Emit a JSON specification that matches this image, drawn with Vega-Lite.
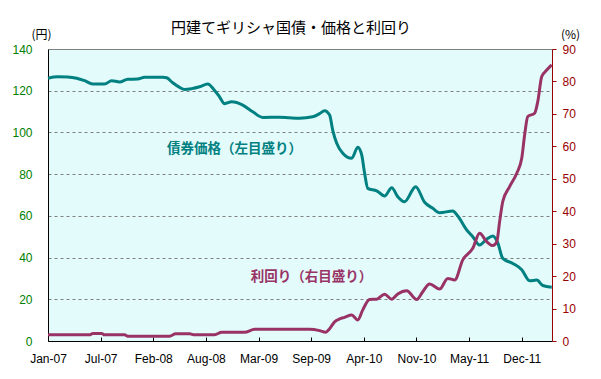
{
  "$schema": "https://vega.github.io/schema/vega-lite/v6.json",
  "width": 504,
  "height": 292,
  "autosize": "none",
  "padding": {"left": 48, "top": 49, "right": 49, "bottom": 38},
  "background": "white",
  "config": {
    "view": {"fill": "#e3fbfb", "stroke": null},
    "font": "Noto Sans CJK JP",
    "axis": {"labelFont": "Liberation Sans", "labelFontSize": 12, "titleFont": "Noto Sans CJK JP", "titleFontSize": 12, "titleFontWeight": "normal", "titleColor": "black"}
  },
  "title": {"text": "円建てギリシャ国債・価格と利回り", "fontSize": 15, "fontWeight": "normal", "font": "Noto Sans CJK JP", "color": "black", "anchor": "middle", "dx": -9, "offset": -8},
  "datasets": {
    "price": [
      {"date": "2007-01-01", "value": 126.0},
      {"date": "2007-02-07", "value": 126.7},
      {"date": "2007-03-17", "value": 126.6},
      {"date": "2007-04-20", "value": 126.0},
      {"date": "2007-05-20", "value": 124.8},
      {"date": "2007-06-20", "value": 123.2},
      {"date": "2007-08-04", "value": 123.2},
      {"date": "2007-08-31", "value": 124.8},
      {"date": "2007-09-30", "value": 124.2},
      {"date": "2007-10-31", "value": 125.5},
      {"date": "2007-12-08", "value": 125.6},
      {"date": "2008-01-03", "value": 126.5},
      {"date": "2008-03-12", "value": 126.5},
      {"date": "2008-03-27", "value": 126.2},
      {"date": "2008-04-19", "value": 123.8},
      {"date": "2008-05-15", "value": 121.6},
      {"date": "2008-06-03", "value": 120.6},
      {"date": "2008-06-30", "value": 121.0},
      {"date": "2008-07-30", "value": 121.9},
      {"date": "2008-08-30", "value": 123.2},
      {"date": "2008-09-22", "value": 120.6},
      {"date": "2008-10-14", "value": 117.0},
      {"date": "2008-11-02", "value": 113.8},
      {"date": "2008-11-29", "value": 114.7},
      {"date": "2009-01-10", "value": 113.1},
      {"date": "2009-02-17", "value": 109.9},
      {"date": "2009-03-27", "value": 107.2},
      {"date": "2009-05-30", "value": 107.3},
      {"date": "2009-07-07", "value": 107.0},
      {"date": "2009-08-14", "value": 106.8},
      {"date": "2009-10-03", "value": 107.5},
      {"date": "2009-10-29", "value": 109.0},
      {"date": "2009-11-17", "value": 110.4},
      {"date": "2009-12-06", "value": 108.3},
      {"date": "2009-12-18", "value": 101.0},
      {"date": "2010-01-02", "value": 94.8},
      {"date": "2010-01-25", "value": 90.0},
      {"date": "2010-02-28", "value": 87.6},
      {"date": "2010-03-23", "value": 92.9},
      {"date": "2010-04-07", "value": 89.2},
      {"date": "2010-04-18", "value": 80.4},
      {"date": "2010-04-30", "value": 73.2},
      {"date": "2010-06-03", "value": 72.0},
      {"date": "2010-07-03", "value": 69.5},
      {"date": "2010-07-30", "value": 73.5},
      {"date": "2010-08-22", "value": 69.2},
      {"date": "2010-09-17", "value": 66.8},
      {"date": "2010-10-29", "value": 74.0},
      {"date": "2010-12-02", "value": 66.5},
      {"date": "2011-01-02", "value": 63.6},
      {"date": "2011-01-28", "value": 61.5},
      {"date": "2011-03-19", "value": 62.3},
      {"date": "2011-04-07", "value": 59.9},
      {"date": "2011-05-11", "value": 53.2},
      {"date": "2011-06-03", "value": 50.0},
      {"date": "2011-06-29", "value": 46.0},
      {"date": "2011-07-26", "value": 48.8},
      {"date": "2011-08-18", "value": 50.3},
      {"date": "2011-09-06", "value": 47.0},
      {"date": "2011-09-25", "value": 39.6},
      {"date": "2011-11-02", "value": 37.2},
      {"date": "2011-12-06", "value": 34.2},
      {"date": "2012-01-05", "value": 28.9},
      {"date": "2012-02-01", "value": 29.2},
      {"date": "2012-02-24", "value": 26.6},
      {"date": "2012-03-29", "value": 25.8}
    ],
    "yield": [
      {"date": "2007-01-01", "value": 1.9},
      {"date": "2007-06-08", "value": 1.9},
      {"date": "2007-06-20", "value": 2.3},
      {"date": "2007-07-24", "value": 2.3},
      {"date": "2007-08-04", "value": 1.9},
      {"date": "2007-10-19", "value": 1.9},
      {"date": "2007-10-31", "value": 1.5},
      {"date": "2008-04-07", "value": 1.5},
      {"date": "2008-04-30", "value": 2.2},
      {"date": "2008-06-22", "value": 2.2},
      {"date": "2008-07-11", "value": 1.9},
      {"date": "2008-09-25", "value": 1.9},
      {"date": "2008-10-22", "value": 2.7},
      {"date": "2009-01-17", "value": 2.7},
      {"date": "2009-02-24", "value": 3.6},
      {"date": "2009-09-21", "value": 3.6},
      {"date": "2009-10-29", "value": 3.2},
      {"date": "2009-11-21", "value": 2.7},
      {"date": "2009-12-06", "value": 3.8},
      {"date": "2009-12-25", "value": 5.9},
      {"date": "2010-01-13", "value": 6.8},
      {"date": "2010-02-01", "value": 7.3},
      {"date": "2010-02-28", "value": 8.0},
      {"date": "2010-03-23", "value": 6.5},
      {"date": "2010-04-11", "value": 9.6},
      {"date": "2010-05-07", "value": 12.8},
      {"date": "2010-06-03", "value": 12.9},
      {"date": "2010-07-03", "value": 14.4},
      {"date": "2010-07-30", "value": 12.9},
      {"date": "2010-08-22", "value": 14.5},
      {"date": "2010-09-25", "value": 15.5},
      {"date": "2010-11-02", "value": 12.8},
      {"date": "2010-11-25", "value": 15.2},
      {"date": "2010-12-21", "value": 17.6},
      {"date": "2011-01-28", "value": 16.0},
      {"date": "2011-02-28", "value": 19.3},
      {"date": "2011-03-26", "value": 18.8},
      {"date": "2011-04-26", "value": 25.0},
      {"date": "2011-06-03", "value": 28.6},
      {"date": "2011-06-29", "value": 33.2},
      {"date": "2011-07-26", "value": 30.6},
      {"date": "2011-08-18", "value": 29.4},
      {"date": "2011-09-02", "value": 30.5},
      {"date": "2011-09-13", "value": 36.8},
      {"date": "2011-09-25", "value": 43.0},
      {"date": "2011-10-21", "value": 47.6},
      {"date": "2011-11-17", "value": 51.7},
      {"date": "2011-12-06", "value": 56.3},
      {"date": "2011-12-17", "value": 63.5},
      {"date": "2011-12-29", "value": 69.2},
      {"date": "2012-01-24", "value": 70.2},
      {"date": "2012-02-05", "value": 73.8},
      {"date": "2012-02-20", "value": 81.5},
      {"date": "2012-03-10", "value": 83.5},
      {"date": "2012-03-29", "value": 85.1}
    ],
    "priceLabel": [{"date": "2008-12-10", "value": 91.9, "label": "債券価格（左目盛り）"}],
    "yieldLabel": [{"date": "2009-09-28", "value": 19.6, "label": "利回り（右目盛り）"}]
  },
  "encoding": {
    "x": {
      "field": "date", "type": "temporal",
      "scale": {"type": "utc", "domain": [{"year": 2007, "month": 1, "date": 1, "utc": true}, {"year": 2012, "month": 3, "date": 30, "utc": true}]},
      "axis": {
        "title": null,
        "values": [
          {"year": 2007, "month": 1, "date": 1, "utc": true},
          {"year": 2007, "month": 7, "date": 20, "utc": true},
          {"year": 2008, "month": 2, "date": 5, "utc": true},
          {"year": 2008, "month": 8, "date": 23, "utc": true},
          {"year": 2009, "month": 3, "date": 11, "utc": true},
          {"year": 2009, "month": 9, "date": 27, "utc": true},
          {"year": 2010, "month": 4, "date": 15, "utc": true},
          {"year": 2010, "month": 11, "date": 1, "utc": true},
          {"year": 2011, "month": 5, "date": 20, "utc": true},
          {"year": 2011, "month": 12, "date": 6, "utc": true}
        ],
        "labelExpr": "utcFormat(datum.value, '%b-%y')",
        "grid": false, "domainColor": "black", "ticks": true, "tickColor": "black", "tickWidth": 1, "tickSize": -4,
        "labelPadding": 16, "labelColor": "black", "labelFlush": false
      }
    }
  },
  "layer": [
    {
      "encoding": {
        "y": {
          "field": "value", "type": "quantitative",
          "scale": {"domain": [0, 140]},
          "axis": {
            "title": "(円)", "titleAngle": 0, "titleX": -7, "titleY": -15, "titleAlign": "center", "titleBaseline": "middle",
            "values": [0, 20, 40, 60, 80, 100, 120, 140],
            "grid": true, "gridColor": "#808080",
            "gridDash": {"condition": {"test": "datum.value === 140", "value": []}, "value": [3, 3]},
            "ticks": false, "labelPadding": 16, "labelColor": "#008000", "domainColor": "black"
          }
        }
      },
      "layer": [
        {
          "data": {"name": "price"},
          "mark": {"type": "line", "color": "#008080", "strokeWidth": 3, "interpolate": "monotone"},
          "encoding": {}
        },
        {
          "data": {"name": "priceLabel"},
          "mark": {"type": "text", "color": "#008080", "fontSize": 13.5, "fontWeight": "bold", "font": "Noto Sans CJK JP", "align": "center", "baseline": "middle"},
          "encoding": {"text": {"field": "label"}}
        }
      ]
    },
    {
      "encoding": {
        "y": {
          "field": "value", "type": "quantitative",
          "scale": {"domain": [0, 90]},
          "axis": {
            "orient": "right",
            "title": "(%)", "titleAngle": 0, "titleX": 18, "titleY": -15, "titleAlign": "center", "titleBaseline": "middle",
            "values": [0, 10, 20, 30, 40, 50, 60, 70, 80, 90],
            "grid": false, "tickSize": 4, "tickColor": "#990000", "domainColor": "#990000",
            "labelPadding": 6, "labelColor": "#990000", "labelOverlap": false
          }
        }
      },
      "layer": [
        {
          "data": {"name": "yield"},
          "mark": {"type": "line", "color": "#993366", "strokeWidth": 3, "interpolate": "monotone"},
          "encoding": {}
        },
        {
          "data": {"name": "yieldLabel"},
          "mark": {"type": "text", "color": "#993366", "fontSize": 13.5, "fontWeight": "bold", "font": "Noto Sans CJK JP", "align": "center", "baseline": "middle"},
          "encoding": {"text": {"field": "label"}}
        }
      ]
    }
  ],
  "resolve": {"scale": {"y": "independent"}}
}
